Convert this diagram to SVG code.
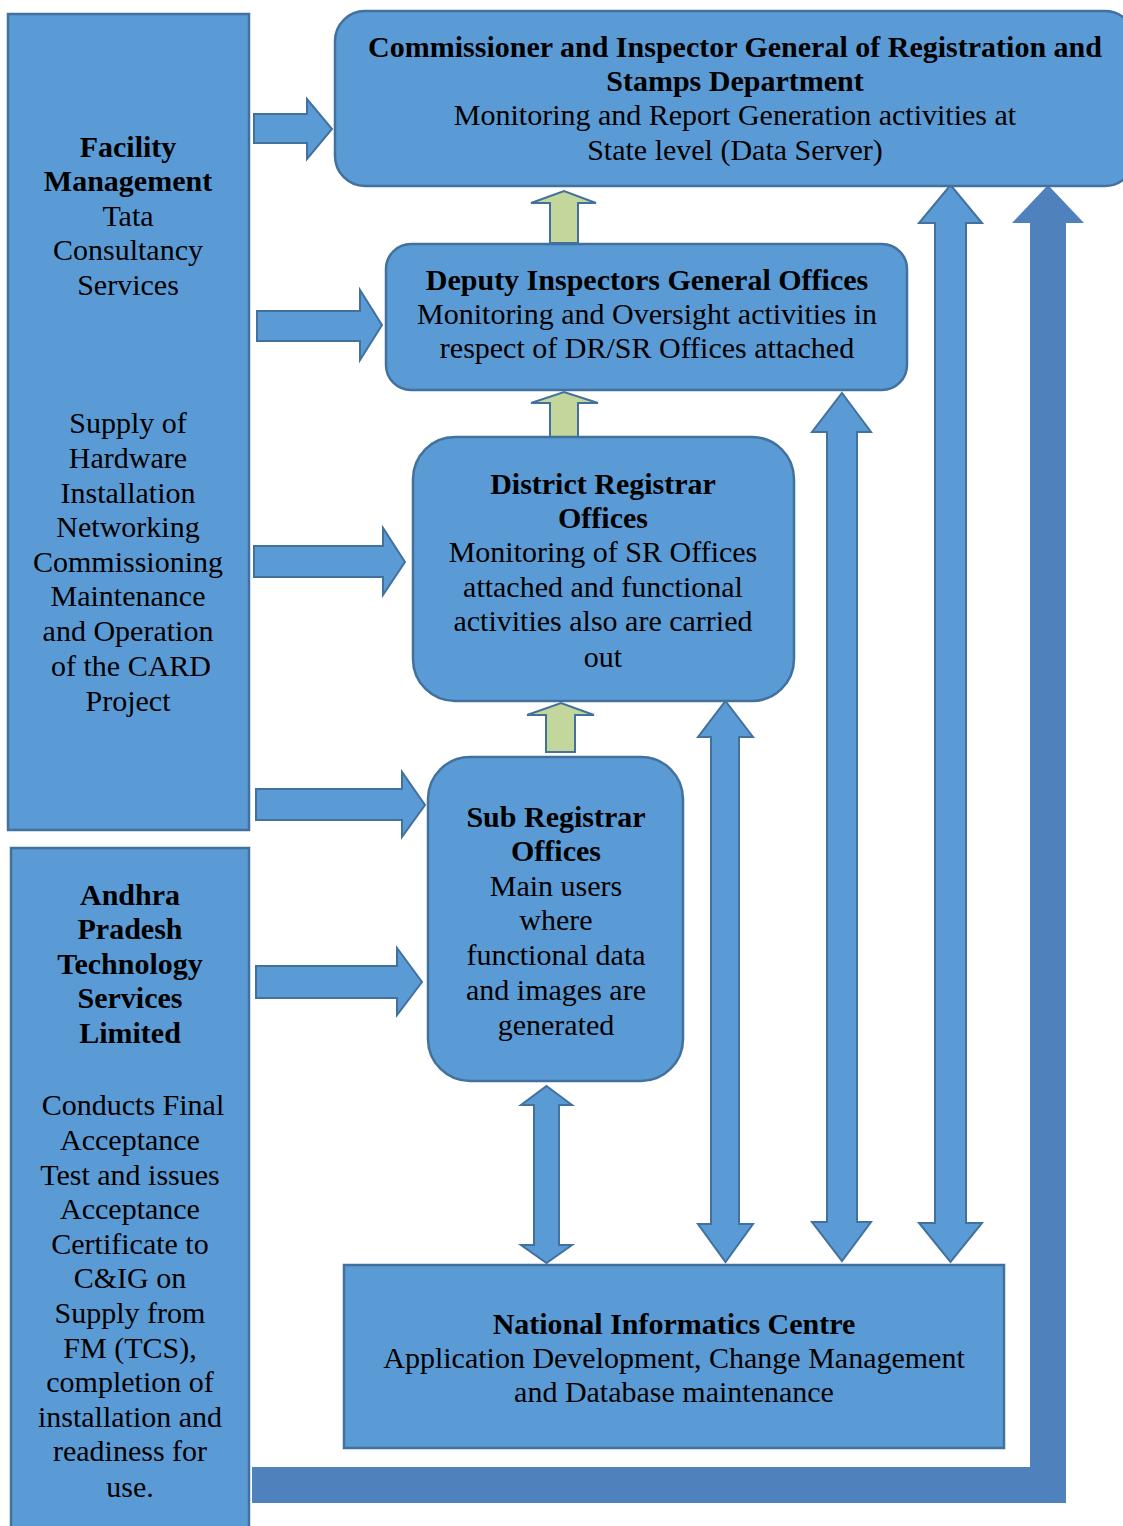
<svg xmlns="http://www.w3.org/2000/svg" width="1123" height="1526" viewBox="0 0 1123 1526">
<style>
.box{fill:#5B9BD5;stroke:#41719C;stroke-width:2.5}
.arr{fill:#5B9BD5;stroke:#41719C;stroke-width:2;stroke-linejoin:miter}
.grn{fill:#C3D69B;stroke:#41719C;stroke-width:2}
.big{fill:#4F81BD;stroke:none}
.b{font-weight:bold}
</style>
<rect width="1123" height="1526" fill="#fff"/>
<g id="connectors">
  <path class="big" d="M252,1467 L1030,1467 L1030,223 L1012,223 L1048,185 L1084,223 L1066,223 L1066,1503 L252,1503 Z"/>
  <path class="arr" d="M254,114 L307,114 L307,99 L332,129 L307,159 L307,143 L254,143 Z"/>
  <path class="arr" d="M257,311 L360,311 L360,290 L382,325 L360,360 L360,341 L257,341 Z"/>
  <path class="arr" d="M254,546 L383,546 L383,528 L405,562 L383,595 L383,577 L254,577 Z"/>
  <path class="arr" d="M256,789 L402,789 L402,772 L425,805 L402,837 L402,820 L256,820 Z"/>
  <path class="arr" d="M256,966 L397,966 L397,948 L422,982 L397,1015 L397,998 L256,998 Z"/>
  <path class="grn" d="M550,243 L550,203 L531,203 L564,191 L596,203 L578,203 L578,243 Z"/>
  <path class="grn" d="M550,437 L550,403 L531,403 L564,392 L598,403 L578,403 L578,437 Z"/>
  <path class="grn" d="M546,752 L546,715 L527,715 L561,703 L594,715 L575,715 L575,752 Z"/>
  <path class="arr" d="M546.5,1086 L572,1105 L559,1105 L559,1245 L572,1245 L546.5,1263 L521,1245 L534,1245 L534,1105 L521,1105 Z"/>
  <path class="arr" d="M725.5,701 L753,737 L739,737 L739,1224 L753,1224 L725.5,1262 L698,1224 L711,1224 L711,737 L698,737 Z"/>
  <path class="arr" d="M842,393 L871,432 L857,432 L857,1222 L871,1222 L842,1261 L812,1222 L827,1222 L827,432 L812,432 Z"/>
  <path class="arr" d="M950.5,185 L982,223 L966,223 L966,1223 L982,1223 L950.5,1262 L919,1223 L935,1223 L935,223 L919,223 Z"/>
</g>
<g font-family="Liberation Serif" font-size="30" fill="#000" text-anchor="middle">
<g id="fm">
  <rect class="box" x="8" y="14" width="241" height="816"/>
  <text x="128" y="157" class="b">Facility</text>
  <text x="128" y="191" class="b">Management</text>
  <text x="128" y="226">Tata</text>
  <text x="128" y="260">Consultancy</text>
  <text x="128" y="295">Services</text>
  <text x="128" y="433">Supply of</text>
  <text x="128" y="468">Hardware</text>
  <text x="128" y="503">Installation</text>
  <text x="128" y="537">Networking</text>
  <text x="128" y="572">Commissioning</text>
  <text x="128" y="606">Maintenance</text>
  <text x="128" y="641">and Operation</text>
  <text x="131" y="676">of the CARD</text>
  <text x="128" y="711">Project</text>
</g>
<g id="apts">
  <rect class="box" x="11" y="848" width="238" height="700"/>
  <text x="130" y="905" class="b">Andhra</text>
  <text x="130" y="939" class="b">Pradesh</text>
  <text x="130" y="974" class="b">Technology</text>
  <text x="130" y="1008" class="b">Services</text>
  <text x="130" y="1043" class="b">Limited</text>
  <text x="133" y="1115">Conducts Final</text>
  <text x="130" y="1150">Acceptance</text>
  <text x="130" y="1185">Test and issues</text>
  <text x="130" y="1219">Acceptance</text>
  <text x="130" y="1254">Certificate to</text>
  <text x="130" y="1288">C&amp;IG on</text>
  <text x="130" y="1323">Supply from</text>
  <text x="130" y="1358">FM (TCS),</text>
  <text x="130" y="1392">completion of</text>
  <text x="130" y="1427">installation and</text>
  <text x="130" y="1461">readiness for</text>
  <text x="130" y="1497">use.</text>
</g>
<g id="cig">
  <rect class="box" x="335" y="11" width="800" height="175" rx="30" ry="30"/>
  <text x="735" y="57" class="b">Commissioner and Inspector General of Registration and</text>
  <text x="735" y="91" class="b">Stamps Department</text>
  <text x="735" y="125">Monitoring and Report Generation activities at</text>
  <text x="735" y="160">State level (Data Server)</text>
</g>
<g id="dig">
  <rect class="box" x="386" y="244" width="521" height="146" rx="25" ry="25"/>
  <text x="647" y="290" class="b">Deputy Inspectors General Offices</text>
  <text x="647" y="324">Monitoring and Oversight activities in</text>
  <text x="647" y="358">respect of DR/SR Offices attached</text>
</g>
<g id="dr">
  <rect class="box" x="413" y="437" width="381" height="264" rx="42" ry="42"/>
  <text x="603" y="494" class="b">District Registrar</text>
  <text x="603" y="528" class="b">Offices</text>
  <text x="603" y="562">Monitoring of SR Offices</text>
  <text x="603" y="597">attached and functional</text>
  <text x="603" y="631">activities also are carried</text>
  <text x="603" y="667">out</text>
</g>
<g id="sr">
  <rect class="box" x="428" y="757" width="255" height="324" rx="42" ry="42"/>
  <text x="556" y="827" class="b">Sub Registrar</text>
  <text x="556" y="861" class="b">Offices</text>
  <text x="556" y="896">Main users</text>
  <text x="556" y="930">where</text>
  <text x="556" y="965">functional data</text>
  <text x="556" y="1000">and images are</text>
  <text x="556" y="1035">generated</text>
</g>
<g id="nic">
  <rect class="box" x="344" y="1265" width="660" height="183"/>
  <text x="674" y="1334" class="b">National Informatics Centre</text>
  <text x="674" y="1368">Application Development, Change Management</text>
  <text x="674" y="1402">and Database maintenance</text>
</g>
</g>
</svg>
